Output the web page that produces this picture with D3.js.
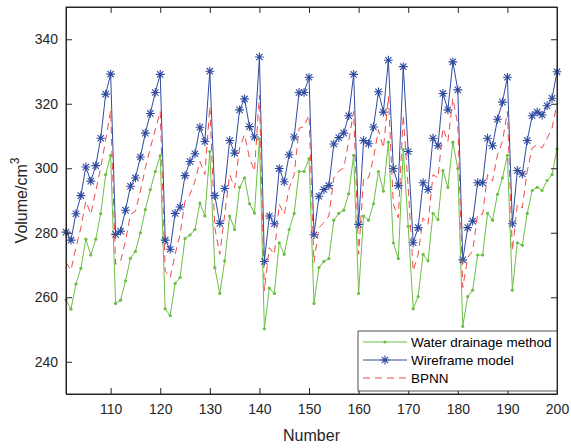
<!DOCTYPE html>
<html>
<head>
<meta charset="utf-8">
<script src="https://cdn.jsdelivr.net/npm/d3@7"></script>
<style>
  body { margin: 0; background: #fff; }
  svg { display: block; font-family: "Liberation Sans", Arial, sans-serif; }
</style>
</head>
<body>
<div class="vis-linechart"></div>
<script>
// sample numbers 101..200
const numbers = d3.range(101, 201);

const waterDrainage = [
  259.2, 256.3, 264.1, 269.0, 278.0, 273.1, 278.0, 285.9, 298.0, 304.0,
  258.1, 259.1, 265.1, 272.1, 274.2, 280.0, 287.2, 293.4, 299.0, 303.9,
  256.4, 254.3, 264.3, 266.1, 278.2, 279.3, 281.0, 289.2, 285.2, 305.2,
  269.2, 261.2, 271.3, 285.2, 281.0, 294.1, 297.0, 289.0, 286.1, 309.1,
  250.2, 262.8, 261.2, 276.9, 273.3, 281.0, 286.0, 299.0, 299.0, 303.0,
  258.1, 269.2, 271.1, 272.0, 283.9, 286.0, 287.0, 292.1, 304.0, 261.2,
  285.2, 283.9, 289.0, 299.0, 292.9, 308.1, 276.9, 272.0, 305.8, 282.0,
  256.4, 260.2, 273.3, 271.3, 286.0, 284.1, 299.3, 294.1, 308.1, 299.9,
  251.0, 260.2, 262.2, 273.1, 273.1, 286.0, 283.9, 291.9, 297.0, 304.0,
  262.2, 276.9, 276.1, 286.0, 293.1, 294.1, 293.1, 296.2, 298.0, 306.0
];

const wireframe = [
  280.2, 277.7, 285.9, 291.5, 300.4, 296.0, 300.8, 309.3, 323.0, 329.2,
  279.5, 280.5, 287.0, 294.4, 297.0, 303.5, 310.9, 317.0, 323.5, 329.1,
  277.7, 274.9, 286.0, 288.0, 297.7, 302.1, 304.5, 312.7, 308.3, 330.1,
  291.5, 282.9, 293.7, 308.6, 304.7, 318.1, 321.5, 312.9, 309.7, 334.5,
  271.1, 285.2, 282.8, 299.9, 295.8, 304.2, 309.7, 323.5, 323.5, 328.2,
  279.4, 291.3, 293.4, 294.6, 307.5, 309.5, 310.9, 316.3, 329.1, 282.6,
  308.6, 307.6, 312.8, 323.7, 317.4, 333.5, 299.9, 294.6, 331.5, 305.2,
  276.9, 281.6, 295.5, 293.4, 309.3, 307.0, 323.2, 318.1, 333.0, 324.3,
  271.6, 281.6, 283.6, 295.5, 295.5, 309.3, 307.0, 315.2, 320.5, 328.2,
  282.8, 299.3, 298.2, 308.6, 316.3, 317.4, 316.5, 319.4, 321.7, 329.9
];

const bpnn = [
  270.8, 268.4, 275.4, 281.6, 289.8, 285.7, 292.9, 300.1, 308.8, 317.9,
  270.2, 271.1, 277.5, 285.7, 286.7, 292.9, 300.1, 306.3, 311.9, 317.6,
  268.2, 266.1, 273.3, 279.5, 289.8, 291.9, 296.0, 302.1, 298.0, 319.1,
  281.6, 273.3, 285.7, 298.0, 293.9, 306.3, 310.4, 303.2, 299.1, 322.7,
  262.0, 275.4, 273.3, 288.8, 285.7, 293.9, 298.0, 312.4, 312.9, 316.5,
  270.8, 281.6, 283.1, 285.2, 297.0, 299.1, 300.1, 308.3, 317.6, 273.3,
  297.0, 297.0, 303.2, 311.9, 306.3, 322.2, 288.8, 284.6, 316.5, 293.9,
  268.2, 273.3, 284.6, 282.6, 298.0, 297.0, 312.4, 308.3, 321.7, 313.5,
  263.0, 272.3, 274.4, 285.7, 285.7, 298.0, 296.0, 304.2, 308.3, 317.6,
  274.4, 288.8, 287.7, 299.1, 306.3, 307.3, 306.3, 309.3, 312.4, 320.1
];

const xTicks = [110, 120, 130, 140, 150, 160, 170, 180, 190, 200];
const yTicks = [240, 260, 280, 300, 320, 340];
const seriesNames = ["Water drainage method", "Wireframe model", "BPNN"];

const draw = () => {
  const W = 571, H = 448;
  const margin = { top: 7, right: 14, bottom: 54, left: 66 };
  const width = W - margin.left - margin.right;
  const height = H - margin.top - margin.bottom;
  const ink = "#262626";
  const green = "#6cbf45", blue = "#2f4aa0", red = "#f04a4a";

  const svgRoot = d3.select(".vis-linechart").append("svg")
    .attr("width", W).attr("height", H);
  const svg = svgRoot.append("g")
    .attr("transform", "translate(" + margin.left + "," + margin.top + ")");

  const x = d3.scaleLinear().domain([101, 200]).range([0, width]);
  const y = d3.scaleLinear().domain([230, 350]).range([height, 0]);

  const line = (vals) => d3.line()
    .x((d, i) => x(numbers[i]))
    .y((d) => y(d))(vals);

  // green series with dots
  svg.append("path")
    .attr("d", line(waterDrainage))
    .attr("fill", "none").attr("stroke", green).attr("stroke-width", 1);
  svg.selectAll(".gdot").data(waterDrainage).enter().append("circle")
    .attr("class", "gdot")
    .attr("cx", (d, i) => x(numbers[i]))
    .attr("cy", (d) => y(d))
    .attr("r", 1.6).attr("fill", green);

  // blue series with asterisks
  svg.append("path")
    .attr("d", line(wireframe))
    .attr("fill", "none").attr("stroke", blue).attr("stroke-width", 1);
  const star = (g, cx, cy, s) => {
    const d = s * 0.72;
    g.append("path")
      .attr("d", `M${cx - s},${cy}L${cx + s},${cy}M${cx},${cy - s}L${cx},${cy + s}` +
        `M${cx - d},${cy - d}L${cx + d},${cy + d}M${cx - d},${cy + d}L${cx + d},${cy - d}`)
      .attr("stroke", blue).attr("stroke-width", 1.1).attr("fill", "none");
  };
  const stars = svg.append("g");
  wireframe.forEach((d, i) => star(stars, x(numbers[i]), y(d), 4.4));

  // red dashed
  svg.append("path")
    .attr("d", line(bpnn))
    .attr("fill", "none").attr("stroke", red).attr("stroke-width", 1)
    .attr("stroke-dasharray", "7,5");

  // axes (MATLAB style box, ticks inward)
  const tl = 6;
  svg.append("g").attr("transform", "translate(0," + height + ")")
    .call(d3.axisBottom(x).tickValues(xTicks).tickSize(-tl).tickPadding(10).tickSizeOuter(0));
  svg.append("g")
    .call(d3.axisLeft(y).tickValues(yTicks).tickSize(-tl).tickPadding(8).tickSizeOuter(0));
  svg.append("g")
    .call(d3.axisTop(x).tickValues(xTicks).tickSize(-tl).tickFormat("").tickSizeOuter(0));
  svg.append("g").attr("transform", "translate(" + width + ",0)")
    .call(d3.axisRight(y).tickValues(yTicks).tickSize(-tl).tickFormat("").tickSizeOuter(0));
  svg.selectAll(".domain, .tick line").attr("stroke", ink).attr("stroke-width", 1);
  svg.selectAll(".tick text").attr("fill", ink).style("font-size", "14px")
    .style("font-family", "Liberation Sans, Arial, sans-serif");
  svg.append("rect").attr("width", width).attr("height", height)
    .attr("fill", "none").attr("stroke", ink).attr("stroke-width", 1);

  // axis titles
  svg.append("text")
    .attr("x", width / 2).attr("y", height + 47)
    .attr("text-anchor", "middle").attr("fill", ink).style("font-size", "16px")
    .text("Number");
  const yl = svgRoot.append("text")
    .attr("transform", "translate(27," + (margin.top + height / 2) + ") rotate(-90)")
    .attr("text-anchor", "middle").attr("fill", ink).style("font-size", "16px");
  yl.append("tspan").text("Volume/cm");
  yl.append("tspan").attr("dy", -8).style("font-size", "12px").text("3");

  // legend
  const lg = svgRoot.append("g").attr("transform", "translate(358,331)");
  lg.append("rect").attr("width", 199).attr("height", 60)
    .attr("fill", "#fff").attr("stroke", ink).attr("stroke-width", 0.8);
  const cols = [green, blue, red];
  seriesNames.forEach((name, i) => {
    const yy = 11 + i * 18;
    lg.append("line").attr("x1", 5).attr("x2", 49).attr("y1", yy).attr("y2", yy)
      .attr("stroke", cols[i]).attr("stroke-width", 1)
      .attr("stroke-dasharray", i === 2 ? "7,5" : null);
    if (i === 0) lg.append("circle").attr("cx", 27).attr("cy", yy).attr("r", 1.6).attr("fill", green);
    if (i === 1) star(lg, 27, yy, 4.4);
    lg.append("text").attr("x", 53).attr("y", yy + 5)
      .attr("fill", "#000").style("font-size", "13.5px").text(name);
  });
};

draw();
</script>
</body>
</html>
